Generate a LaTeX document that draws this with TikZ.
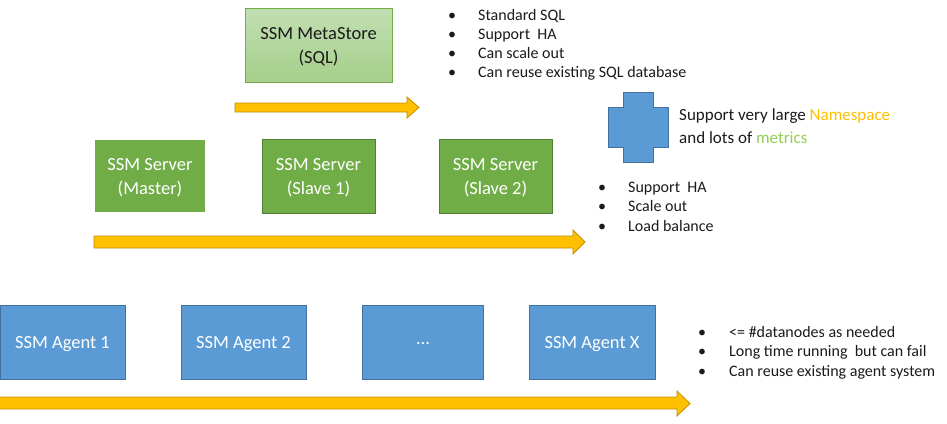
\documentclass[tikz,border=0pt]{standalone}
\usepackage{fontspec}
\setmainfont{Carlito}
\definecolor{srvgreen}{HTML}{70AD47}
\definecolor{srvborder}{HTML}{507E32}
\definecolor{metatop}{HTML}{C2DFB3}
\definecolor{metabot}{HTML}{A5CF89}
\definecolor{agblue}{HTML}{5B9BD5}
\definecolor{agborder}{HTML}{41719C}
\definecolor{arrfill}{HTML}{FFC000}
\definecolor{arrborder}{HTML}{BF9000}
\definecolor{nsyellow}{HTML}{FFC000}
\definecolor{mgreen}{HTML}{92D050}
\definecolor{txtdark}{HTML}{1A1A1A}
\newcommand{\dn}[1]{\raisebox{-2pt}[\height][\depth]{#1}}
\begin{document}
\begin{tikzpicture}[x=1pt,y=-1pt,
  boxtext/.style={font=\fontsize{18.5}{24}\selectfont, align=center, inner sep=0pt},
  metabox/.style={boxtext, draw=srvgreen, line width=0.8pt, top color=metatop, bottom color=metabot, text=txtdark, minimum width=147pt, minimum height=74pt},
  masterbox/.style={boxtext, fill=srvgreen, text=white, minimum width=110pt, minimum height=72pt},
  slavebox/.style={boxtext, fill=srvgreen, draw=srvborder, line width=0.8pt, text=white, minimum width=113pt, minimum height=74pt},
  agentbox/.style={boxtext, fill=agblue, draw=agborder, line width=0.8pt, text=white, minimum height=74pt},
  bigarrow/.style={fill=arrfill, draw=arrborder, line width=0.8pt, line join=miter},
  crossshape/.style={fill=agblue, draw=agborder, line width=0.8pt},
  bul/.style={font=\fontsize{16}{19}\selectfont, anchor=base west, inner sep=0pt, text=txtdark},
  bigtext/.style={font=\fontsize{17}{23}\selectfont, anchor=base west, inner sep=0pt, text=txtdark}
]
\useasboundingbox (0,0) rectangle (947,423);

% arrows
\draw[bigarrow] (235,103) -- (407,103) -- (407,97) -- (419,107.5) -- (407,118) -- (407,112) -- (235,112) -- cycle;
\draw[bigarrow] (94,236) -- (573,236) -- (573,230) -- (585,242) -- (573,254) -- (573,248) -- (94,248) -- cycle;
\draw[bigarrow] (-1,397) -- (677,397) -- (677,391) -- (690,403.5) -- (677,416) -- (677,409) -- (-1,409) -- cycle;

% metastore
\node[metabox] (meta) at (318.5,45) {\dn{SSM MetaStore}\\\dn{(SQL)}};

% servers
\node[masterbox] (master) at (150,176) {\dn{SSM Server}\\\dn{(Master)}};
\node[slavebox] (slave1) at (318.5,176) {\dn{SSM Server}\\\dn{(Slave 1)}};
\node[slavebox] (slave2) at (495.5,176) {\dn{SSM Server}\\\dn{(Slave 2)}};

% agents
\node[agentbox, minimum width=125pt] (agent1) at (62.5,342) {\dn{SSM Agent 1}};
\node[agentbox, minimum width=125pt] (agent2) at (243.5,342) {\dn{SSM Agent 2}};
\node[agentbox, minimum width=121pt] (agent3) at (423,342) {\dn{...}};
\node[agentbox, minimum width=126pt] (agentx) at (592,342) {\dn{SSM Agent X}};

% cross
\draw[crossshape] (623,92) -- (653,92) -- (653,107) -- (668,107) -- (668,147) -- (653,147) -- (653,162) -- (623,162) -- (623,147) -- (608,147) -- (608,107) -- (623,107) -- cycle;

% big text
\node[bigtext] (big1) at (679,120) {Support very large \textcolor{nsyellow}{Namespace}};
\node[bigtext] (big2) at (679,143) {and lots of \textcolor{mgreen}{metrics}};

% bullet list 1
\foreach \t [count=\i] in {Standard SQL, Support\ \ HA, Can scale out, Can reuse existing SQL database}{
  \node[bul] (la\i) at (448,{20+(\i-1)*19.3}) {\makebox[30pt][l]{•}\t};
}
% bullet list 2
\foreach \t [count=\i] in {Support\ \ HA, Scale out, Load balance}{
  \node[bul] (lb\i) at (598,{192+(\i-1)*19.5}) {\makebox[30pt][l]{•}\t};
}
% bullet list 3
\foreach \t [count=\i] in {<= \#datanodes as needed, Long time running\ \ but can fail, Can reuse existing agent system}{
  \node[bul] (lc\i) at (698,{337+(\i-1)*19.5}) {\makebox[31pt][l]{•}\t};
}
\end{tikzpicture}
\end{document}
